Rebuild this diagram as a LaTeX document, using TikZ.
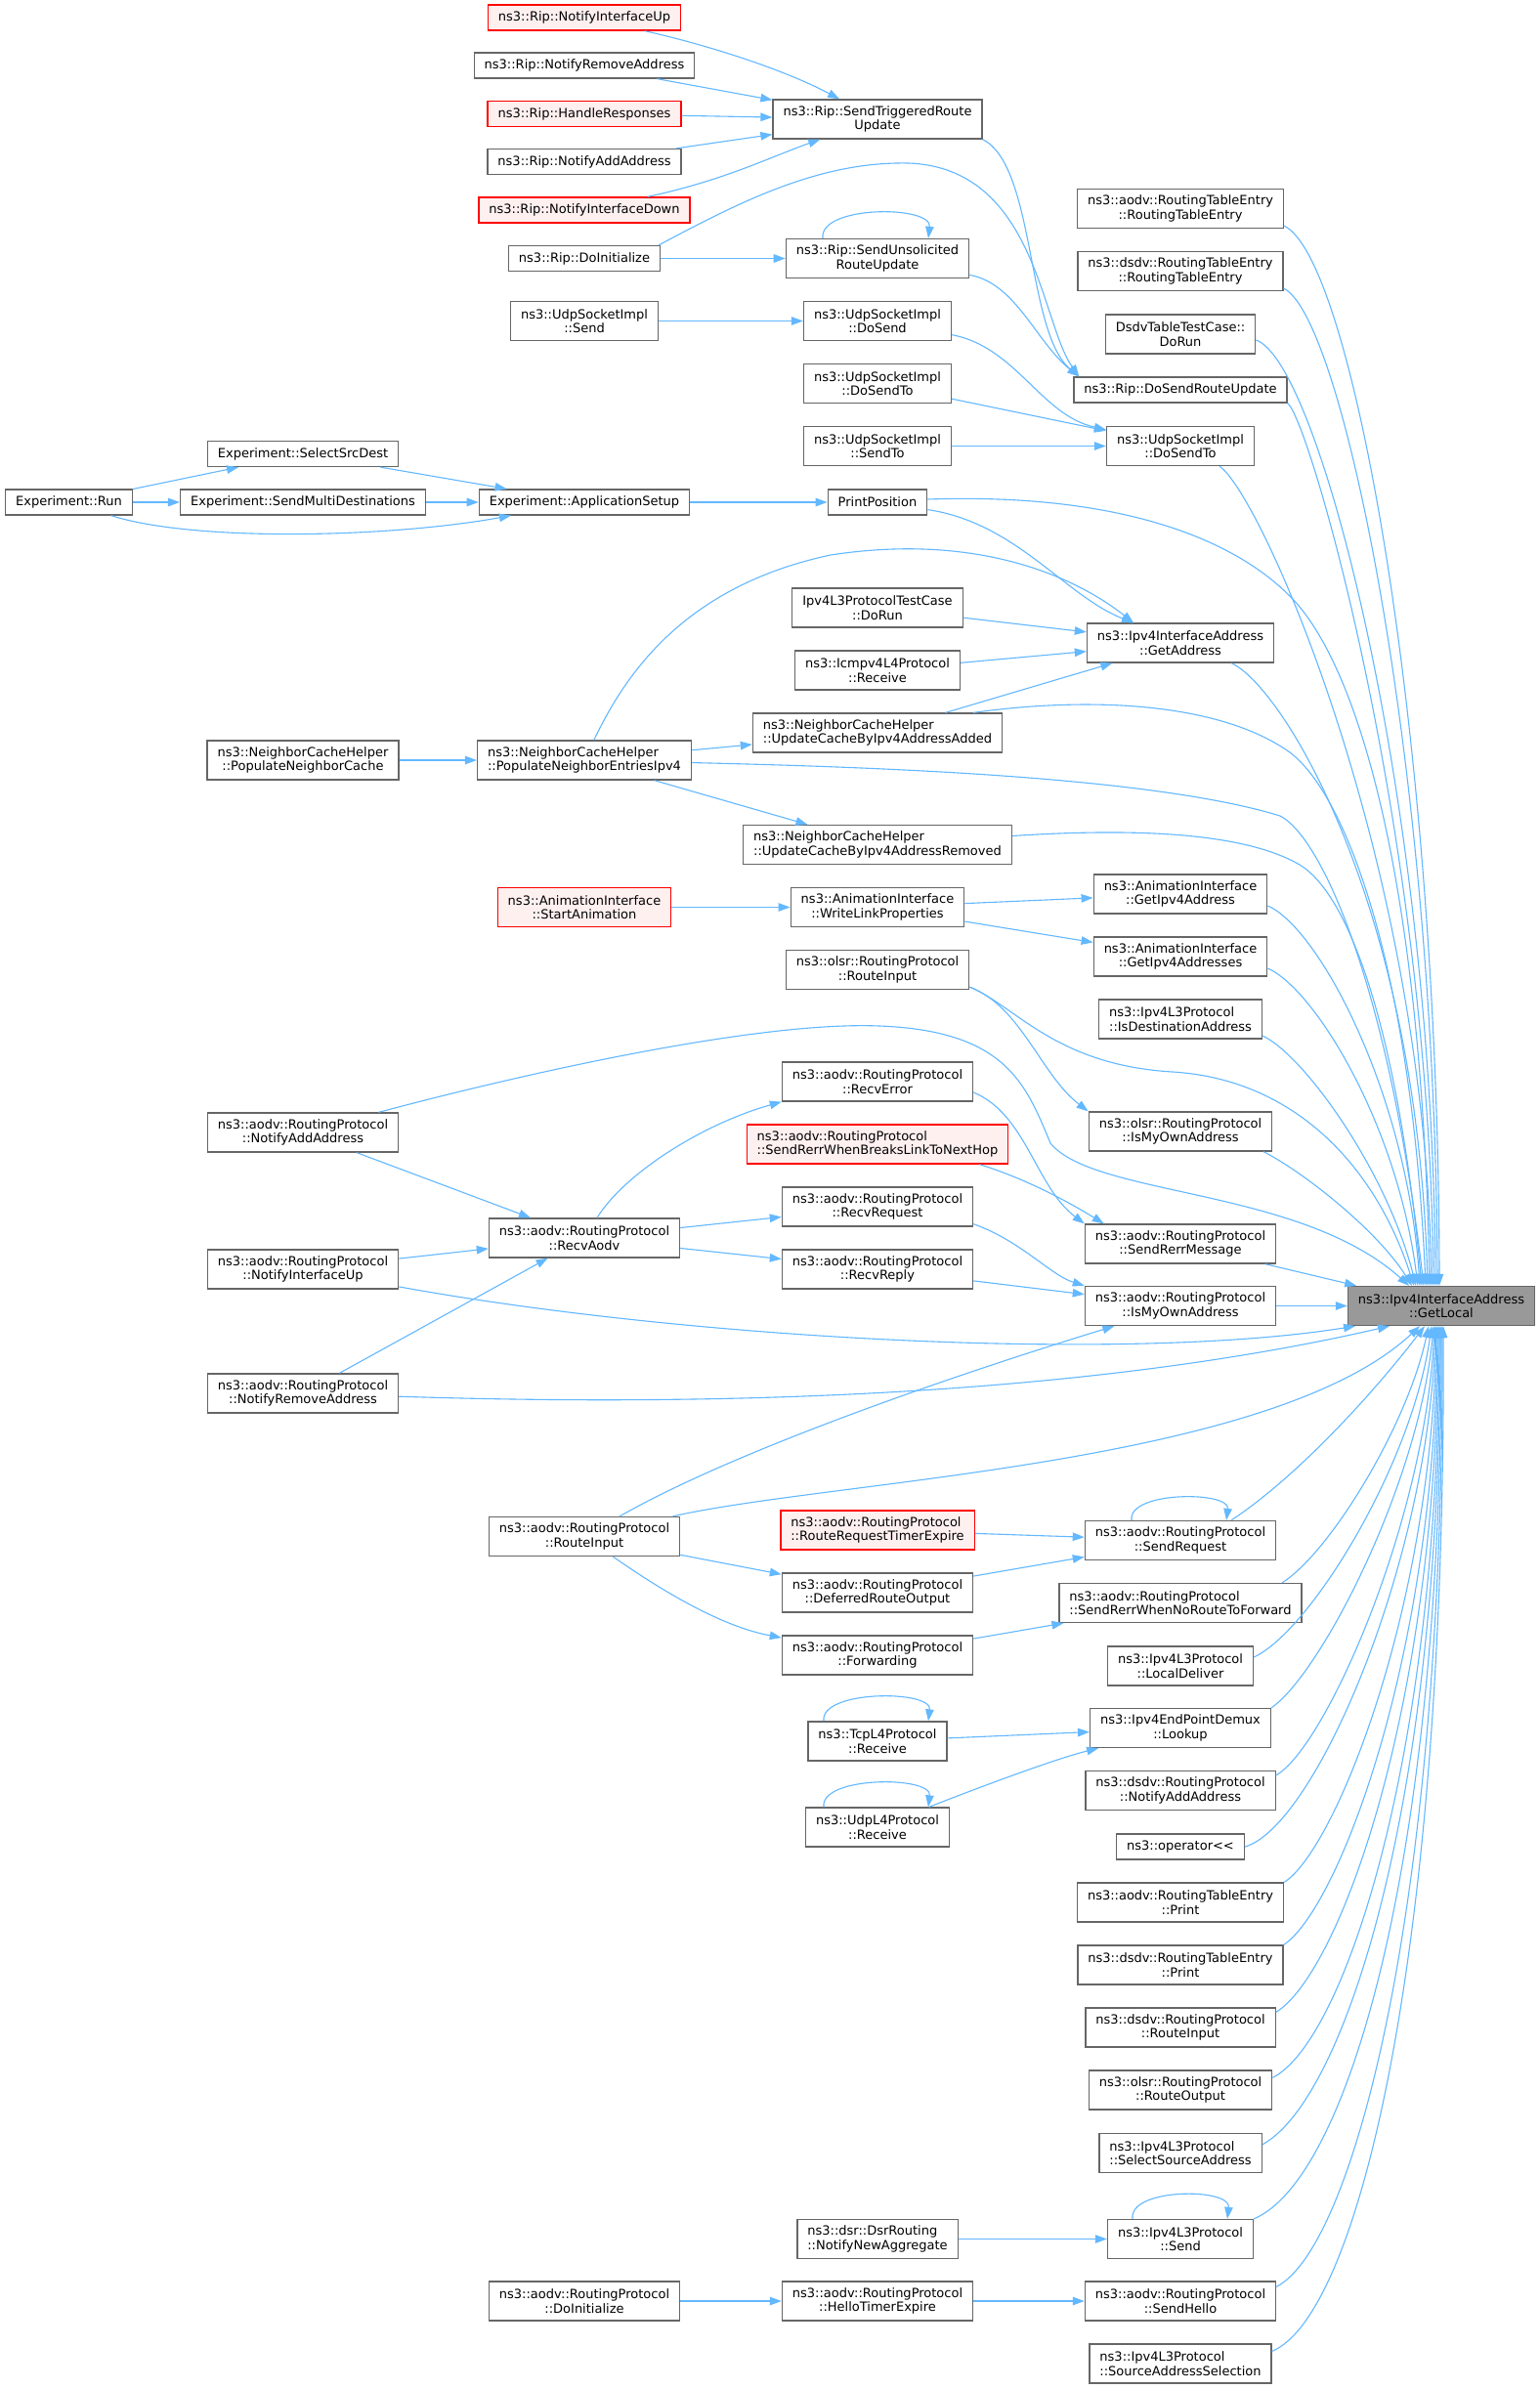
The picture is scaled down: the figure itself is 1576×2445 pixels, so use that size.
\documentclass[tikz,border=0pt]{standalone}
\usepackage{fontspec}
\newfontfamily\graphfont{DejaVu Sans}
\usetikzlibrary{arrows.meta}
\definecolor{edgeblue}{HTML}{63B8FF}
\definecolor{boxgray}{HTML}{666666}
\definecolor{rootfill}{HTML}{999999}
\definecolor{markfill}{HTML}{FFF0F0}

\begin{document}
\begin{tikzpicture}[x=1pt, y=-1pt,
                    fn/.style={draw=boxgray, fill=white, line width=1.3pt, inner xsep=10.5pt, inner ysep=2pt, minimum height=26pt, font={\graphfont\fontsize{13pt}{14.5pt}\selectfont}},
                    two/.style={fn, align=center, minimum height=40pt},
                    twol/.style={fn, align=left, minimum height=40pt},
                    marked/.style={draw=red, fill=markfill},
                    root/.style={fill=rootfill},
                    call/.style={-{Triangle[length=12pt,width=8.5pt]}, draw=edgeblue, line width=1.1pt},
                   ]
  \path[use as bounding box, fill=white] (0,0) rectangle (1576,2445);

  \node[fn, marked] (riu) at (598, 18) {ns3::Rip::NotifyInterfaceUp};
  \node[fn] (rra) at (598, 67) {ns3::Rip::NotifyRemoveAddress};
  \node[fn, marked] (rhr) at (598, 116.5) {ns3::Rip::HandleResponses};
  \node[fn] (rnaa) at (598, 165.5) {ns3::Rip::NotifyAddAddress};
  \node[fn, marked] (rnid) at (598, 215) {ns3::Rip::NotifyInterfaceDown};
  \node[fn] (rdi) at (598, 264.5) {ns3::Rip::DoInitialize};
  \node[two] (uss) at (598, 328.5) {ns3::UdpSocketImpl\\::Send};
  \node[fn] (essd) at (310, 464.5) {Experiment::SelectSrcDest};
  \node[fn] (erun) at (70.5, 514) {Experiment::Run};
  \node[fn] (esmd) at (310, 514) {Experiment::SendMultiDestinations};
  \node[fn] (eas) at (598, 514) {Experiment::ApplicationSetup};
  \node[two] (pnc) at (310, 778) {ns3::NeighborCacheHelper\\::PopulateNeighborCache};
  \node[twol] (pnei) at (598, 778) {ns3::NeighborCacheHelper\\::PopulateNeighborEntriesIpv4};
  \node[two, marked] (sa) at (598, 928.5) {ns3::AnimationInterface\\::StartAnimation};
  \node[two] (ana) at (310, 1159) {ns3::aodv::RoutingProtocol\\::NotifyAddAddress};
  \node[two] (recvaodv) at (598, 1267) {ns3::aodv::RoutingProtocol\\::RecvAodv};
  \node[two] (anu) at (310, 1299) {ns3::aodv::RoutingProtocol\\::NotifyInterfaceUp};
  \node[two] (anr) at (310, 1426) {ns3::aodv::RoutingProtocol\\::NotifyRemoveAddress};
  \node[two] (ari) at (598, 1572.5) {ns3::aodv::RoutingProtocol\\::RouteInput};
  \node[two] (adi) at (598, 2355) {ns3::aodv::RoutingProtocol\\::DoInitialize};

  \node[two] (stru) at (898, 122) {ns3::Rip::SendTriggeredRoute\\Update};
  \node[two] (rsu) at (898, 264.5) {ns3::Rip::SendUnsolicited\\RouteUpdate};
  \node[two] (uds) at (898, 328.5) {ns3::UdpSocketImpl\\::DoSend};
  \node[two] (udt1) at (898, 392.5) {ns3::UdpSocketImpl\\::DoSendTo};
  \node[two] (ust) at (898, 456.5) {ns3::UdpSocketImpl\\::SendTo};
  \node[fn] (pp) at (898, 514) {PrintPosition};
  \node[two] (tcrun) at (898, 622) {Ipv4L3ProtocolTestCase\\::DoRun};
  \node[two] (icmp) at (898, 686) {ns3::Icmpv4L4Protocol\\::Receive};
  \node[twol] (ucadd) at (898, 750) {ns3::NeighborCacheHelper\\::UpdateCacheByIpv4AddressAdded};
  \node[twol] (ucrem) at (898, 864.5) {ns3::NeighborCacheHelper\\::UpdateCacheByIpv4AddressRemoved};
  \node[two] (wlp) at (898, 928.5) {ns3::AnimationInterface\\::WriteLinkProperties};
  \node[two] (orin) at (898, 992.5) {ns3::olsr::RoutingProtocol\\::RouteInput};
  \node[two] (recverr) at (898, 1107) {ns3::aodv::RoutingProtocol\\::RecvError};
  \node[twol, marked] (sbreak) at (898, 1171) {ns3::aodv::RoutingProtocol\\::SendRerrWhenBreaksLinkToNextHop};
  \node[two] (recvreq) at (898, 1235) {ns3::aodv::RoutingProtocol\\::RecvRequest};
  \node[two] (recvrep) at (898, 1299) {ns3::aodv::RoutingProtocol\\::RecvReply};
  \node[twol, marked] (rrte) at (898, 1566) {ns3::aodv::RoutingProtocol\\::RouteRequestTimerExpire};
  \node[two] (dro) at (898, 1630) {ns3::aodv::RoutingProtocol\\::DeferredRouteOutput};
  \node[two] (fwd) at (898, 1694) {ns3::aodv::RoutingProtocol\\::Forwarding};
  \node[two] (tcp) at (898, 1782) {ns3::TcpL4Protocol\\::Receive};
  \node[two] (udp) at (898, 1870) {ns3::UdpL4Protocol\\::Receive};
  \node[twol] (dsr) at (898, 2291.5) {ns3::dsr::DsrRouting\\::NotifyNewAggregate};
  \node[two] (hte) at (898, 2355) {ns3::aodv::RoutingProtocol\\::HelloTimerExpire};

  \node[two] (aodvrte) at (1208, 213.5) {ns3::aodv::RoutingTableEntry\\::RoutingTableEntry};
  \node[two] (dsdvrte) at (1208, 277.5) {ns3::dsdv::RoutingTableEntry\\::RoutingTableEntry};
  \node[two] (dsdvtc) at (1208, 342) {DsdvTableTestCase::\\DoRun};
  \node[fn] (rdsru) at (1208, 399) {ns3::Rip::DoSendRouteUpdate};
  \node[two] (udt2) at (1208, 456.5) {ns3::UdpSocketImpl\\::DoSendTo};
  \node[two] (gaddr) at (1208, 658) {ns3::Ipv4InterfaceAddress\\::GetAddress};
  \node[two] (gip4a) at (1208, 915) {ns3::AnimationInterface\\::GetIpv4Address};
  \node[two] (gip4as) at (1208, 979) {ns3::AnimationInterface\\::GetIpv4Addresses};
  \node[twol] (isdest) at (1208, 1043) {ns3::Ipv4L3Protocol\\::IsDestinationAddress};
  \node[two] (olsrmy) at (1208, 1158) {ns3::olsr::RoutingProtocol\\::IsMyOwnAddress};
  \node[two] (srm) at (1208, 1273) {ns3::aodv::RoutingProtocol\\::SendRerrMessage};
  \node[two] (aodvmy) at (1208, 1336.5) {ns3::aodv::RoutingProtocol\\::IsMyOwnAddress};
  \node[two] (srq) at (1208, 1576.5) {ns3::aodv::RoutingProtocol\\::SendRequest};
  \node[twol] (snrf) at (1208, 1640.5) {ns3::aodv::RoutingProtocol\\::SendRerrWhenNoRouteToForward};
  \node[two] (ldel) at (1208, 1705) {ns3::Ipv4L3Protocol\\::LocalDeliver};
  \node[two] (lookup) at (1208, 1768.5) {ns3::Ipv4EndPointDemux\\::Lookup};
  \node[two] (dsdvna) at (1208, 1832.5) {ns3::dsdv::RoutingProtocol\\::NotifyAddAddress};
  \node[fn] (oper) at (1208, 1890) {ns3::operator<{}<};
  \node[two] (aodvp) at (1208, 1947) {ns3::aodv::RoutingTableEntry\\::Print};
  \node[two] (dsdvp) at (1208, 2011) {ns3::dsdv::RoutingTableEntry\\::Print};
  \node[two] (dsdvri) at (1208, 2075) {ns3::dsdv::RoutingProtocol\\::RouteInput};
  \node[two] (olsrro) at (1208, 2139) {ns3::olsr::RoutingProtocol\\::RouteOutput};
  \node[twol] (ssa) at (1208, 2203.5) {ns3::Ipv4L3Protocol\\::SelectSourceAddress};
  \node[two] (l3send) at (1208, 2291.5) {ns3::Ipv4L3Protocol\\::Send};
  \node[two] (shello) at (1208, 2355) {ns3::aodv::RoutingProtocol\\::SendHello};
  \node[twol] (sas) at (1208, 2419) {ns3::Ipv4L3Protocol\\::SourceAddressSelection};

  \node[two, root] (gl) at (1475, 1336.5) {ns3::Ipv4InterfaceAddress\\::GetLocal};

  \draw[call] (riu) .. controls (720,45) and (800,70) .. (stru);
  \draw[call] (rra) -- (stru);
  \draw[call] (rhr) -- (stru);
  \draw[call] (rnaa) -- (stru);
  \draw[call] (rnid) .. controls (740,185) and (790,160) .. (stru);
  \draw[call] (rdi) -- (rsu);
  \draw[call] ([xshift=-2pt]rdi.north east) .. controls (760,205) and (840,165) .. (930,167) .. controls (1060,172) and (1065,330) .. ([xshift=6pt]rdsru.north west);
  \draw[call] (stru.south east) .. controls (1060,170) and (1050,340) .. ([xshift=6pt]rdsru.north west);
  \draw[call] (rsu) .. controls (1040,290) and (1060,350) .. ([xshift=6pt]rdsru.north west);
  \draw[call] ([xshift=-56pt]rsu.north) .. controls +(-4,-34) and +(4,-34) .. ([xshift=52pt]rsu.north);
  \draw[call] (uss) -- (uds);
  \draw[call] (uds) .. controls (1040,355) and (1065,425) .. (udt2);
  \draw[call] (udt1) -- (udt2);
  \draw[call] (ust) -- (udt2);

  \draw[call] (erun) -- (essd);
  \draw[call] (erun) -- (esmd);
  \draw[call] (erun) .. controls (200,555) and (400,550) .. (eas);
  \draw[call] (essd) -- (eas);
  \draw[call] (esmd) -- (eas);
  \draw[call] (eas) -- (pp);

  \draw[call] (pp) .. controls (1040,535) and (1090,610) .. ([xshift=-48pt]gaddr.north);
  \draw[call] (tcrun) -- (gaddr);
  \draw[call] (icmp) -- (gaddr);
  \draw[call] (ucadd) -- (gaddr);
  \draw[call] (pnei) .. controls (640,690) and (700,600) .. (850,568) .. controls (1000,545) and (1100,590) .. ([xshift=-48pt]gaddr.north);
  \draw[call] (pnc) -- (pnei);
  \draw[call] (pnei) -- (ucadd);
  \draw[call] (pnei) -- (ucrem);

  \draw[call] (sa) -- (wlp);
  \draw[call] (wlp) -- (gip4a);
  \draw[call] (wlp) -- (gip4as);
  \draw[call] ([yshift=3pt]orin.south east) .. controls (1045,1030) and (1065,1100) .. (olsrmy.north west);

  \draw[call] (ana) -- (recvaodv);
  \draw[call] (anu) -- (recvaodv);
  \draw[call] (anr) -- (recvaodv);
  \draw[call] (recvaodv) .. controls (640,1200) and (720,1150) .. (recverr.south west);
  \draw[call] (recvaodv) -- (recvreq);
  \draw[call] (recvaodv) -- (recvrep);
  \draw[call] ([yshift=-11pt]recverr.east) .. controls (1050,1140) and (1060,1215) .. (srm.north west);
  \draw[call] ([xshift=-30pt]sbreak.south east) .. controls (1045,1205) and (1085,1225) .. ([xshift=20pt]srm.north west);
  \draw[call] ([yshift=3pt]recvreq.south east) .. controls (1045,1270) and (1075,1305) .. (aodvmy.north west);
  \draw[call] (recvrep) -- (aodvmy);

  \draw[call] (ari) .. controls (760,1480) and (1000,1400) .. (aodvmy);
  \draw[call] (ari) -- (dro);
  \draw[call] (ari) .. controls (680,1630) and (740,1665) .. (fwd);
  \draw[call] (rrte) -- (srq);
  \draw[call] (dro) -- (srq);
  \draw[call] ([xshift=-50pt]srq.north) .. controls +(-4,-30) and +(4,-30) .. ([xshift=47pt]srq.north);
  \draw[call] (fwd) -- (snrf);
  \draw[call] (tcp) -- (lookup);
  \draw[call] ([xshift=-55pt]tcp.north) .. controls +(-4,-32) and +(4,-32) .. ([xshift=52pt]tcp.north);
  \draw[call] (udp) .. controls (1000,1830) and (1080,1800) .. (lookup);
  \draw[call] ([xshift=-55pt]udp.north) .. controls +(-4,-32) and +(4,-32) .. ([xshift=52pt]udp.north);
  \draw[call] (dsr) -- (l3send);
  \draw[call] ([xshift=-49pt]l3send.north) .. controls +(-4,-32) and +(4,-32) .. ([xshift=48pt]l3send.north);
  \draw[call] (adi) -- (hte);
  \draw[call] (hte) -- (shello);

  \draw[call] ([yshift=3pt]aodvrte.south east) .. controls (1385,265) and (1472,760) .. ([xshift=-2pt]gl.north);
  \draw[call] ([yshift=3pt]dsdvrte.south east) .. controls (1375,325) and (1469,790) .. ([xshift=-4pt]gl.north);
  \draw[call] ([yshift=-6pt]dsdvtc.east) .. controls (1350,370) and (1466,820) .. ([xshift=-6pt]gl.north);
  \draw[call] (rdsru.south east) .. controls (1340,430) and (1462,850) .. ([xshift=-8pt]gl.north);
  \draw[call] ([xshift=40pt]udt2.south) .. controls (1290,505) and (1458,880) .. ([xshift=-10pt]gl.north);
  \draw[call] ([yshift=3pt]pp.east) .. controls (1120,505) and (1250,540) .. (1320,610) .. controls (1390,680) and (1455,900) .. ([xshift=-12pt]gl.north);
  \draw[call] ([xshift=52pt]gaddr.south) .. controls (1310,700) and (1450,920) .. ([xshift=-14pt]gl.north);
  \draw[call] ([xshift=98pt]ucadd.north) .. controls (1120,712) and (1250,720) .. (1320,770) .. controls (1380,815) and (1445,1000) .. ([xshift=-16pt]gl.north);
  \draw[call] (pnei) .. controls (900,785) and (1180,795) .. (1310,835) .. controls (1350,855) and (1420,1000) .. ([xshift=-18pt]gl.north);
  \draw[call] ([yshift=9pt]ucrem.east) .. controls (1150,848) and (1270,850) .. (1330,885) .. controls (1380,915) and (1430,1050) .. ([xshift=-20pt]gl.north);
  \draw[call] ([yshift=-12pt]gip4a.east) .. controls (1350,950) and (1440,1120) .. ([xshift=-22pt]gl.north);
  \draw[call] ([yshift=-12pt]gip4as.east) .. controls (1345,1012) and (1430,1150) .. ([xshift=-24pt]gl.north);
  \draw[call] ([yshift=-17pt]isdest.east) .. controls (1335,1080) and (1420,1200) .. ([xshift=-26pt]gl.north);
  \draw[call] ([yshift=3pt]orin.south east) .. controls (1040,1030) and (1080,1090) .. (1200,1097) .. controls (1330,1105) and (1410,1200) .. ([xshift=-28pt]gl.north);
  \draw[call] ([xshift=85pt]olsrmy.south) .. controls (1335,1200) and (1410,1260) .. ([xshift=-30pt]gl.north);
  \draw[call] (ana) .. controls (550,1095) and (780,1045) .. (900,1050) .. controls (1030,1055) and (1050,1110) .. (1075,1170) .. controls (1120,1225) and (1330,1215) .. ([xshift=-33pt]gl.north);
  \draw[call] (srm) -- (gl);
  \draw[call] (aodvmy) -- (gl);

  \draw[call] (anu) .. controls (700,1370) and (1150,1395) .. ([xshift=-88pt]gl.south);
  \draw[call] (anr) .. controls (800,1442) and (1150,1420) .. ([xshift=-53pt]gl.south);
  \draw[call] (ari) .. controls (850,1515) and (1300,1500) .. ([xshift=-22pt]gl.south);
  \draw[call] ([xshift=52pt]srq.north) .. controls (1330,1510) and (1410,1420) .. ([xshift=-17pt]gl.south);
  \draw[call] ([xshift=104pt]snrf.north) .. controls (1360,1590) and (1440,1460) .. ([xshift=-13pt]gl.south);
  \draw[call] ([yshift=9pt]ldel.east) .. controls (1340,1670) and (1445,1500) .. ([xshift=-10pt]gl.south);
  \draw[call] (lookup.north east) .. controls (1350,1715) and (1452,1520) .. ([xshift=-8pt]gl.south);
  \draw[call] ([yshift=-5pt]dsdvna.north east) .. controls (1355,1790) and (1458,1560) .. ([xshift=-7pt]gl.south);
  \draw[call] (oper.east) .. controls (1345,1870) and (1462,1600) .. ([xshift=-6pt]gl.south);
  \draw[call] (aodvp.north east) .. controls (1365,1895) and (1465,1650) .. ([xshift=-5pt]gl.south);
  \draw[call] (dsdvp.north east) .. controls (1368,1955) and (1468,1700) .. ([xshift=-4pt]gl.south);
  \draw[call] ([yshift=-5pt]dsdvri.north east) .. controls (1370,2020) and (1470,1750) .. ([xshift=-3pt]gl.south);
  \draw[call] ([yshift=-8pt]olsrro.north east) .. controls (1375,2090) and (1472,1800) .. ([xshift=-2pt]gl.south);
  \draw[call] ([yshift=-12pt]ssa.north east) .. controls (1375,2150) and (1474,1850) .. ([xshift=-1pt]gl.south);
  \draw[call] (l3send.north east) .. controls (1380,2230) and (1476,1900) .. (gl.south);
  \draw[call] ([yshift=-6pt]shello.north east) .. controls (1385,2300) and (1478,1950) .. ([xshift=1pt]gl.south);
  \draw[call] ([yshift=-8pt]sas.north east) .. controls (1390,2370) and (1480,2000) .. ([xshift=2pt]gl.south);
\end{tikzpicture}
\end{document}
